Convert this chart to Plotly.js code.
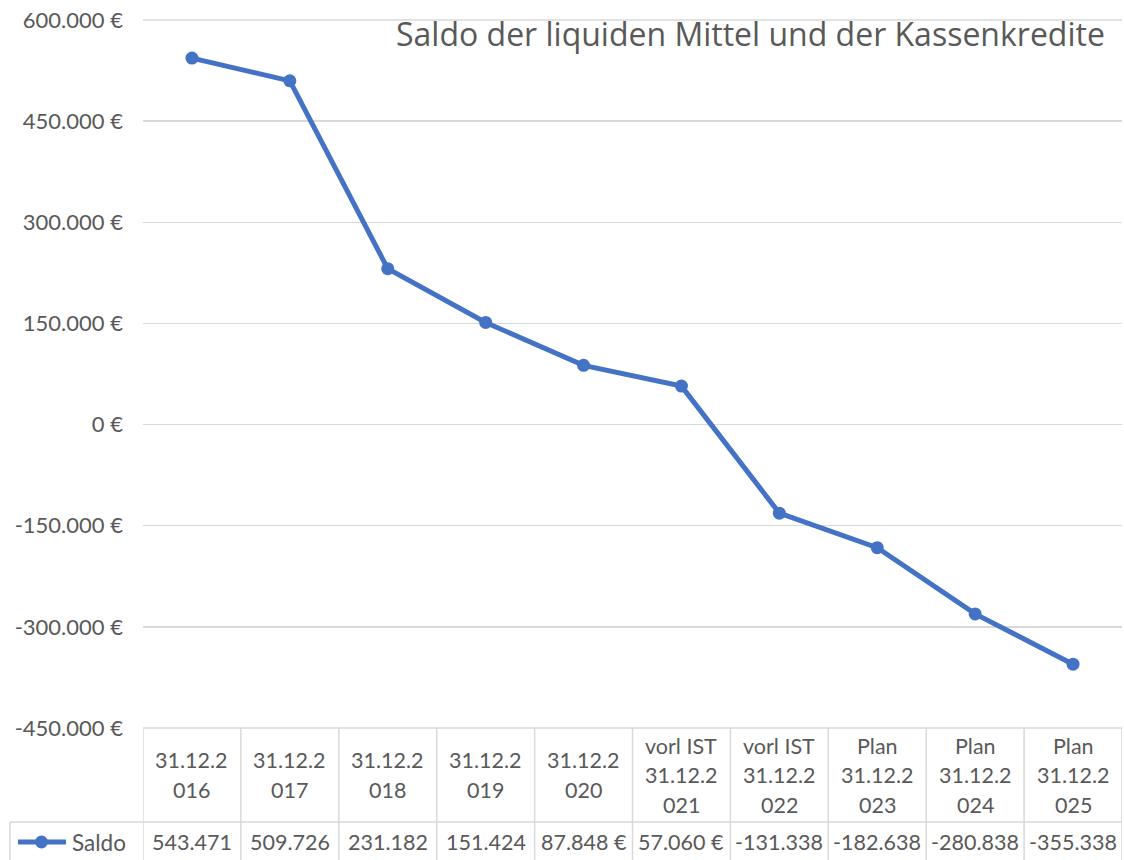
<!DOCTYPE html>
<html><head><meta charset="utf-8">
<script src="https://cdn.plot.ly/plotly-3.0.1.min.js"></script>
<style>html,body{margin:0;padding:0;background:#fff}</style>
</head><body><div id="chart" style="width:1124px;height:860px"></div>
<script>
const categories = [
  ["31.12.2","016"],["31.12.2","017"],["31.12.2","018"],["31.12.2","019"],["31.12.2","020"],
  ["vorl IST","31.12.2","021"],["vorl IST","31.12.2","022"],
  ["Plan","31.12.2","023"],["Plan","31.12.2","024"],["Plan","31.12.2","025"]
];
const saldo = [543471, 509726, 231182, 151424, 87848, 57060, -131338, -182638, -280838, -355338];
const seriesName = "Saldo";
const yTicks = [600000, 450000, 300000, 150000, 0, -150000, -300000, -450000];
const title = "Saldo der liquiden Mittel und der Kassenkredite";

const FONT = "Lato, 'Open Sans', sans-serif";
const TFONT = "'Open Sans', Lato, sans-serif";
const GRAY = "#595959";
const GRID = "#d9d9d9";
const BLUE = "#4472C4";
const W = 1124, H = 860;
const px = v => v / W, py = v => 1 - v / H;
const TS = 21.5;

function fmt(v) {
  const s = Math.abs(v).toString().replace(/\B(?=(\d{3})+(?!\d))/g, ".");
  return (v < 0 ? "-" : "") + s + " €";
}
function cellText(v) {
  // cell too narrow for six digits plus the euro sign: Excel clips it
  const t = fmt(v);
  return Math.abs(v) >= 100000 ? t.replace(" €", "") : t;
}

const x = categories.map((c, i) => i);
const xDom = [px(143), px(1122)];
const plotTop = 20, tableTop = 728, headBottom = 822, tableBottom = 870;

const shapes = [];
const annotations = [];
// top gridline and table top border
[plotTop, tableTop].forEach(yy => shapes.push({type: "line", xref: "paper", yref: "paper",
  x0: xDom[0], x1: xDom[1], y0: py(yy), y1: py(yy), line: {color: GRID, width: 1.5}, layer: "below"}));
// vertical column borders
for (let i = 0; i <= categories.length; i++) {
  shapes.push({type: "line", xref: "x", yref: "paper", x0: i - 0.5, x1: i - 0.5,
    y0: py(tableTop), y1: py(tableBottom), line: {color: GRID, width: 1.5}, layer: "below"});
}
// horizontal border between header and values
shapes.push({type: "line", xref: "paper", yref: "paper", x0: px(10), x1: xDom[1],
  y0: py(headBottom), y1: py(headBottom), line: {color: GRID, width: 1.5}});
// left border of legend cell
shapes.push({type: "line", xref: "paper", yref: "paper", x0: px(10), x1: px(10),
  y0: py(headBottom), y1: py(tableBottom), line: {color: GRID, width: 1.5}});
// legend key
shapes.push({type: "line", xref: "paper", yref: "paper", x0: px(18), x1: px(66),
  y0: py(842), y1: py(842), line: {color: BLUE, width: 5}});
shapes.push({type: "circle", xref: "paper", yref: "paper", x0: px(35), x1: px(48),
  y0: py(848.5), y1: py(835.5), fillcolor: BLUE, line: {color: BLUE, width: 0}});
annotations.push({xref: "paper", yref: "paper", x: px(70), y: py(842), text: seriesName,
  showarrow: false, xanchor: "left", yanchor: "middle", font: {family: FONT, size: 22.5, color: GRAY}});

// header cells
const lineGap = 29.5, headMid = (tableTop + headBottom) / 2;
categories.forEach((lines, i) => {
  const n = lines.length;
  lines.forEach((t, k) => {
    const yy = headMid + (k - (n - 1) / 2) * lineGap;
    annotations.push({xref: "x", yref: "paper", x: i, y: py(yy), text: t, showarrow: false,
      xanchor: "center", yanchor: "middle", font: {family: FONT, size: TS, color: GRAY}});
  });
});
// value cells
saldo.forEach((v, i) => {
  annotations.push({xref: "x", yref: "paper", x: i, y: py(842), text: cellText(v), showarrow: false,
    xanchor: "center", yanchor: "middle", font: {family: FONT, size: TS, color: GRAY}});
});
// title
annotations.push({xref: "paper", yref: "paper", x: px(1107), y: py(33), text: title, showarrow: false,
  xanchor: "right", yanchor: "middle", font: {family: TFONT, size: 32, color: GRAY}});

const data = [{
  type: "scatter", mode: "lines+markers", x: x, y: saldo, name: seriesName,
  line: {color: BLUE, width: 5}, marker: {color: BLUE, size: 13},
  cliponaxis: false, hoverinfo: "y"
}];

const layout = {
  width: W, height: H, margin: {l: 0, r: 0, t: 0, b: 0},
  paper_bgcolor: "#fff", plot_bgcolor: "#fff", showlegend: false,
  font: {family: FONT, color: GRAY},
  xaxis: {domain: xDom, range: [-0.5, categories.length - 0.5], showgrid: false,
    zeroline: false, showticklabels: false, showline: false, fixedrange: true},
  yaxis: {domain: [py(tableTop), py(plotTop)], range: [-450000, 600000], tickvals: yTicks,
    ticktext: yTicks.map(fmt), showgrid: true, gridcolor: GRID, gridwidth: 1.5,
    zeroline: false, showline: false, ticks: "", ticklabelstandoff: 19,
    tickfont: {family: FONT, size: 22, color: GRAY}, fixedrange: true},
  shapes: shapes, annotations: annotations
};
Plotly.newPlot("chart", data, layout, {displayModeBar: false, staticPlot: true});
</script></body></html>
